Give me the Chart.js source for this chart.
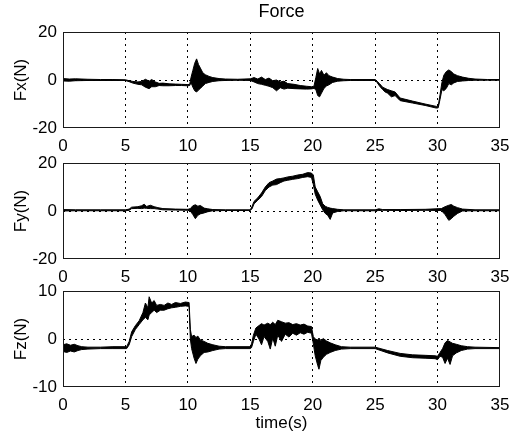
<!DOCTYPE html>
<html><head><meta charset="utf-8">
<script src="https://cdn.jsdelivr.net/npm/chart.js@4"></script>
<style>
html,body{margin:0;padding:0;background:#fff;}
#wrap{position:relative;width:522px;height:435px;overflow:hidden;background:#fff;}
canvas{position:absolute;left:0;}
</style></head><body>
<div id="wrap">
<canvas id="c1" width="522" height="160" style="top:0px"></canvas>
<canvas id="c2" width="522" height="160" style="top:131px"></canvas>
<canvas id="c3" width="522" height="176" style="top:259px"></canvas>
</div>
<script>
// ---- text ----
const titleText = 'Force';
const xTitle = 'time(s)';
const yTitles = ['Fx(N)', 'Fy(N)', 'Fz(N)'];
// ---- ticks ----
const xTicks = [0, 5, 10, 15, 20, 25, 30, 35];
const yTicksFx = [-20, 0, 20];
const yTicksFy = [-20, 0, 20];
const yTicksFz = [-10, 0, 10];
// ---- Fx: time, upper and lower envelope of the noisy trace ----
const fxT  = [0,0.5,1,2,3,4,5, 5.3,5.6,6.0,6.3,6.6,6.9,7.1,7.4,7.7,8.0, 8.5,9.0,9.5,10.0,10.15, 10.25,10.4,10.55,10.7,10.85,11.0,11.2,11.4,11.7,12.0, 12.5,13,14,15, 15.3,15.6,15.9,16.2,16.5,16.8,17.1,17.4,17.7,18.0, 18.5,19.0,19.5,19.9,20.1, 20.25,20.4,20.55,20.7,20.9,21.1,21.3,21.6,22.0,22.5, 23,25.0, 25.15,25.35,25.6,25.8,26.0,26.3,26.6,27.0, 28.0,29.0,29.9,30.05, 30.2,30.35,30.5,30.7,30.9,31.1,31.3,31.6,32.0,32.5, 33,34,35];
const fxHi = [0.6,0.4,0.5,0.3,0.2,0.2,0.1, -0.3,-0.6,-0.8,-0.6,0.3,-0.5,0.2,-0.8,-1.4,-1.3, -1.6,-1.7,-1.8,-1.9,-1.8, 1.0,4.0,7.0,8.8,6.5,5.0,3.0,2.2,1.5,1.0, 0.6,0.4,0.3,0.5, 1.0,0.4,1.2,0.2,0.8,-0.3,0.0,-0.8,-0.5,-1.5, -1.8,-2.3,-2.6,-2.8,-2.6, 1.0,4.8,2.5,4.0,2.0,3.0,1.8,1.2,0.6,0.3, 0.2,0.2, -0.5,-1.5,-3.0,-3.5,-4.0,-4.5,-5.0,-7.5, -8.8,-10.0,-11.0,-10.9, -6.0,-1.0,2.0,3.5,4.2,3.5,2.5,1.8,1.2,0.7, 0.4,0.2,0.2];
const fxLo = [-0.4,-0.5,-0.3,-0.2,-0.2,-0.2,-0.2, -0.7,-1.3,-1.8,-2.0,-3.0,-3.6,-2.8,-2.8,-2.3,-2.4, -2.4,-2.3,-2.3,-2.4,-2.3, -1.0,-3.0,-4.5,-5.0,-4.2,-3.5,-2.5,-1.5,-1.0,-0.6, -0.3,-0.2,-0.1,-0.2, -0.8,-1.5,-1.8,-2.2,-2.6,-3.2,-4.5,-3.2,-3.8,-3.4, -3.6,-3.7,-3.8,-3.7,-3.5, -4.0,-6.5,-7.0,-5.5,-3.5,-2.5,-2.0,-1.0,-0.5,-0.3, -0.2,-0.2, -1.0,-2.5,-4.0,-5.0,-5.5,-7.0,-6.5,-8.6, -9.6,-10.6,-11.7,-11.6, -8.0,-4.0,-4.5,-3.5,-1.5,-2.0,-1.2,-0.6,-0.4,-0.2, -0.1,-0.1,-0.1];
// ---- Fy ----
const fyT  = [0,1,3,5, 5.3,5.5,6.0,6.3,6.5,6.7,7.0,7.3,7.6,8.0, 9.0,10.0, 10.2,10.4,10.6,10.8,11.0,11.3,11.6,12.0, 13,15.0, 15.15,15.3,15.6,15.9,16.2,16.5,16.8,17.1,17.4,17.7, 18.0,18.4,18.8,19.2,19.6,19.9, 20.05,20.2,20.4,20.6,20.8,21.0,21.2,21.4,21.6,22.0, 22.5,25,25.3,25.6,27,29, 30.3,30.6,30.9,31.1,31.3,31.6,32.0, 33,35];
const fyHi = [0.6,0.5,0.5,0.5, 0.8,1.6,1.8,2.2,2.8,1.9,2.4,1.8,1.4,1.0, 0.8,0.7, 1.0,2.2,2.6,2.0,2.3,1.2,0.9,0.6, 0.5,0.5, 2.0,4.0,5.5,7.5,10.0,11.8,12.5,13.3,13.5,13.8, 14.2,14.5,15.0,15.3,16.0,15.8, 15.0,10.0,8.0,6.0,3.0,2.0,1.5,1.2,1.0,0.7, 0.5,0.5,0.9,0.6,0.6,0.7, 1.0,1.8,2.4,2.7,2.0,1.4,0.8, 0.5,0.5];
const fyLo = [0.0,0.1,0.1,0.1, 0.3,1.0,1.1,1.0,1.2,1.1,1.0,1.0,0.8,0.5, 0.4,0.3, 0.0,-1.5,-3.2,-1.8,-1.2,-0.8,-0.3,0.1, 0.2,0.2, 1.0,3.0,4.5,6.0,8.5,10.0,10.8,11.0,11.8,12.5, 12.8,13.2,13.5,14.0,14.3,14.0, 11.0,7.0,4.5,2.5,0.5,-1.0,-1.8,-3.5,-0.8,-0.2, 0.1,0.1,0.2,0.3,0.2,0.3, 0.2,-1.5,-3.9,-3.2,-2.2,-1.0,0.0, 0.1,0.1];
// ---- Fz ----
const fzT  = [0,0.3,0.6,0.9,1.2,1.5,2,3,4,5.1, 5.3,5.5,5.8,6.1,6.4,6.6,6.8,6.9,7.1,7.3, 7.5,7.8,8.1,8.4,8.7,9.0,9.4,9.8,10.1,10.2, 10.3,10.5,10.65,10.8,11.0,11.3,11.6,12.0,12.5,13.0, 15.0,15.1,15.25,15.45,15.7,15.9,16.1,16.4,16.6,16.8, 17.0,17.2,17.5,17.8,18.1,18.4,18.7,19.0,19.3,19.6, 19.9,20.05,20.2,20.4,20.5,20.65,20.85,21.1,21.4,21.8, 22.3,23,25,26,27,28,29,29.8,30.0,30.2, 30.4,30.6,30.8,31.0,31.2,31.5,31.9,32.4,33,35];
const fzHi = [-1.2,-1.0,-1.3,-1.1,-1.4,-1.6,-1.7,-1.7,-1.6,-1.6, -0.5,1.5,2.8,3.8,5.5,7.5,6.5,8.8,7.5,8.0, 7.0,7.2,7.0,7.5,7.2,7.6,7.4,7.7,7.6,2.0, 0.5,0.8,0.3,0.6,-0.2,-0.5,-0.9,-1.2,-1.5,-1.6, -1.6,-1.0,0.8,2.3,2.8,3.2,2.9,3.3,3.0,3.5, 3.0,3.9,3.6,3.3,3.4,3.0,3.2,2.9,3.1,2.7, 2.6,0.5,0.0,-0.2,0.2,-0.3,0.1,-0.4,-0.8,-1.2, -1.6,-1.7,-1.7,-2.4,-3.0,-3.3,-3.4,-3.5,-3.6,-2.8, -2.0,-0.8,-0.3,-0.6,-0.9,-1.1,-1.4,-1.6,-1.7,-1.8];
const fzLo = [-2.6,-2.8,-2.5,-2.7,-2.4,-2.2,-2.1,-2.0,-2.0,-2.0, -1.2,0.5,2.0,3.0,4.0,4.5,4.0,5.0,5.5,6.0, 5.5,6.0,6.0,6.3,6.5,6.6,6.8,6.9,6.8,0.0, -2.0,-4.0,-5.1,-4.2,-3.5,-2.8,-2.7,-2.4,-2.1,-2.0, -2.0,-1.8,-0.5,1.0,0.0,-1.2,0.5,-0.5,-2.1,0.2, -1.5,0.8,-0.5,1.0,0.4,1.2,0.8,1.3,1.0,1.4, 1.2,-1.0,-3.5,-5.5,-6.3,-4.5,-3.8,-3.2,-2.8,-2.4, -2.1,-2.0,-2.0,-2.9,-3.6,-3.9,-4.0,-4.1,-4.3,-3.6, -3.8,-5.1,-4.0,-5.3,-3.5,-2.9,-2.4,-2.1,-2.0,-2.0];

Chart.defaults.font.family = '"Liberation Sans", Arial, Helvetica, sans-serif';
Chart.defaults.color = '#000';

const boxPlugin = {
  id: 'box',
  afterDraw(c) {
    const {ctx, chartArea: a} = c;
    ctx.save();
    ctx.setLineDash([]);
    ctx.strokeStyle = '#1a1a1a';
    ctx.lineWidth = 1;
    ctx.strokeRect(a.left + 0.5, a.top + 0.5, a.right - a.left - 1, a.bottom - a.top - 1);
    ctx.restore();
  }
};

function pts(T, V) { return T.map((t, i) => ({x: t, y: V[i]})); }

function makeChart(id, T, Hi, Lo, yTicks, yTitle, withTitle, withXTitle, xAxisH) {
  const yMin = yTicks[0], yMax = yTicks[yTicks.length - 1];
  const dash = [2, 4];
  return new Chart(document.getElementById(id), {
    type: 'line',
    data: {
      datasets: [
        {data: pts(T, Hi), borderColor: '#000', backgroundColor: '#000', borderWidth: 1, pointRadius: 0, tension: 0, fill: '+1'},
        {data: pts(T, Lo), borderColor: '#000', backgroundColor: '#000', borderWidth: 1, pointRadius: 0, tension: 0, fill: false}
      ]
    },
    options: {
      responsive: false,
      animation: false,
      events: [],
      layout: {padding: {top: withTitle ? 0 : 32, right: 22, left: 0, bottom: 0}},
      plugins: {
        legend: {display: false},
        tooltip: {enabled: false},
        title: withTitle ? {display: true, text: titleText, fullSize: false, color: '#000',
          font: {size: 18, weight: 'normal'}, padding: {top: 1, bottom: 9.4}} : {display: false}
      },
      scales: {
        x: {
          type: 'linear', min: xTicks[0], max: xTicks[xTicks.length - 1],
          afterBuildTicks: s => { s.ticks = xTicks.map(v => ({value: v})); },
          afterFit: s => { s.height = xAxisH; },
          grid: {
            color: ctx => (ctx.tick && (ctx.tick.value === xTicks[0] || ctx.tick.value === xTicks[xTicks.length - 1])) ? 'rgba(0,0,0,0)' : '#000',
            lineWidth: 1, drawTicks: false, borderDash: dash
          },
          border: {display: false, dash: dash},
          ticks: {padding: 8, color: '#000', font: {size: 17}, maxRotation: 0, autoSkip: false},
          title: withXTitle ? {display: true, text: xTitle, color: '#000', font: {size: 17}, padding: {top: 0, bottom: 1}} : {display: false}
        },
        y: {
          type: 'linear', min: yMin, max: yMax,
          afterBuildTicks: s => { s.ticks = yTicks.map(v => ({value: v})); },
          afterFit: s => { s.width = 63; },
          grid: {
            color: ctx => (ctx.tick && (ctx.tick.value === yMin || ctx.tick.value === yMax)) ? 'rgba(0,0,0,0)' : '#000',
            lineWidth: 1, drawTicks: false, borderDash: dash
          },
          border: {display: false, dash: dash},
          ticks: {padding: 6, color: '#000', font: {size: 17}, autoSkip: false},
          title: {display: true, text: yTitle, color: '#000', font: {size: 17}, padding: {top: 11, bottom: 0}}
        }
      }
    },
    plugins: [boxPlugin]
  });
}

makeChart('c1', fxT, fxHi, fxLo, yTicksFx, yTitles[0], true, false, 32);
makeChart('c2', fyT, fyHi, fyLo, yTicksFy, yTitles[1], false, false, 32);
makeChart('c3', fzT, fzHi, fzLo, yTicksFz, yTitles[2], false, true, 48);
</script>
</body></html>
